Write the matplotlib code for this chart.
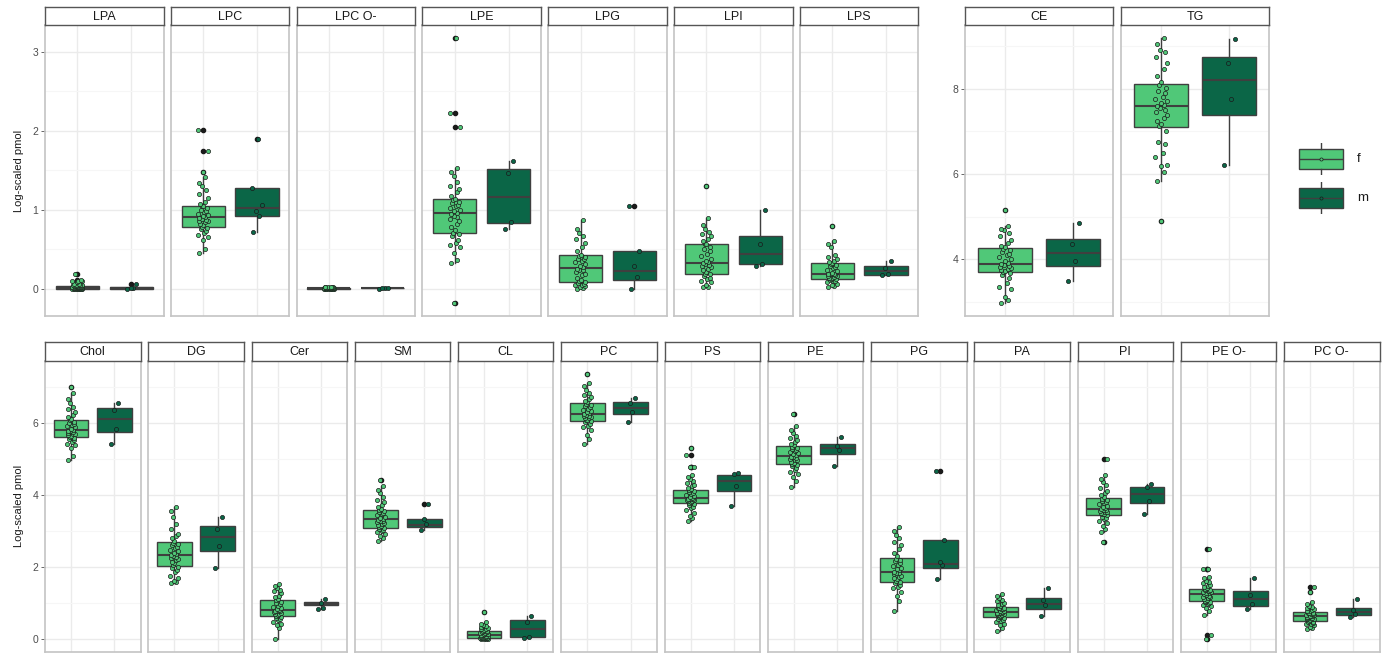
import numpy as np
import matplotlib
matplotlib.use("Agg")
import matplotlib.pyplot as plt

plt.rcParams['font.family'] = ['Liberation Sans', 'DejaVu Sans']

# ---------------------------------------------------------------- data
groups = ["f", "m"]

classes_top_left = ["LPA", "LPC", "LPC O-", "LPE", "LPG", "LPI", "LPS"]
classes_top_right = ["CE", "TG"]
classes_bottom = ["Chol", "DG", "Cer", "SM", "CL", "PC", "PS", "PE", "PG",
                  "PA", "PI", "PE O-", "PC O-"]
classes = classes_top_left + classes_top_right + classes_bottom

# box statistics (whisker low, Q1, median, Q3, whisker high) per class
f_lo = [0.00, 0.45, 0.00, 0.32, 0.00, 0.017, 0.017, 2.98, 5.84, 4.96, 1.55,
        0.00, 2.73, 0.00, 5.43, 3.27, 4.23, 0.78, 0.21, 2.96, 0.67, 0.26]
f_q1 = [0.00, 0.78, 0.00, 0.70, 0.08, 0.185, 0.122, 3.70, 7.09, 5.60, 2.02,
        0.62, 3.08, 0.02, 6.06, 3.77, 4.85, 1.59, 0.60, 3.44, 1.04, 0.49]
f_med = [0.01, 0.90, 0.005, 0.96, 0.26, 0.327, 0.185, 3.90, 7.60, 5.80, 2.34,
         0.79, 3.32, 0.11, 6.26, 3.91, 5.09, 1.87, 0.74, 3.61, 1.25, 0.62]
f_q3 = [0.03, 1.05, 0.01, 1.13, 0.42, 0.567, 0.319, 4.27, 8.10, 6.10, 2.68,
        1.08, 3.59, 0.23, 6.55, 4.14, 5.35, 2.24, 0.88, 3.92, 1.39, 0.74]
f_hi = [0.06, 1.41, 0.02, 1.53, 0.87, 0.894, 0.596, 4.78, 9.18, 6.83, 3.67,
        1.53, 4.25, 0.46, 7.11, 4.56, 5.93, 3.12, 1.25, 4.56, 1.73, 1.01]

m_lo = [0.00, 0.72, 0.00, 0.76, 0.00, 0.28, 0.17, 3.48, 6.21, 5.42, 1.97,
        0.82, 3.04, 0.02, 6.04, 3.70, 4.81, 1.67, 0.64, 3.46, 0.83, 0.60]
m_q1 = [0.00, 0.915, 0.003, 0.83, 0.105, 0.306, 0.176, 3.84, 7.375, 5.74, 2.43,
        0.93, 3.12, 0.04, 6.24, 4.11, 5.14, 1.96, 0.84, 3.77, 0.92, 0.67]
m_med = [0.005, 1.02, 0.007, 1.16, 0.22, 0.437, 0.223, 4.15, 8.19, 6.11, 2.82,
         0.97, 3.17, 0.28, 6.43, 4.40, 5.31, 2.08, 0.97, 4.03, 1.10, 0.74]
m_q3 = [0.015, 1.27, 0.01, 1.51, 0.475, 0.664, 0.281, 4.48, 8.74, 6.43, 3.13,
        1.01, 3.32, 0.51, 6.58, 4.57, 5.42, 2.75, 1.13, 4.21, 1.34, 0.86]
m_hi = [0.02, 1.27, 0.01, 1.61, 0.475, 0.99, 0.353, 4.86, 9.16, 6.57, 3.39,
        1.10, 3.32, 0.62, 6.71, 4.62, 5.60, 2.75, 1.41, 4.31, 1.69, 1.12]

# individual samples, group f
f_LPA = [0, 0, 0, 0, 0, 0, 0, 0, 0, 0.005, 0.005, 0.01, 0.01, 0.01, 0.01, 0.01,
         0.01, 0.01, 0.015, 0.015, 0.02, 0.02, 0.02, 0.025, 0.025, 0.03, 0.03,
         0.03, 0.035, 0.04, 0.04, 0.045, 0.05, 0.05, 0.055, 0.06,
         0.08, 0.09, 0.10, 0.10, 0.11, 0.19]
f_LPC = [0.45, 0.50, 0.62, 0.65, 0.68, 0.70, 0.73, 0.75, 0.77,
         0.78, 0.80, 0.82, 0.84, 0.85, 0.86, 0.87, 0.88, 0.89,
         0.90, 0.92, 0.93, 0.95, 0.97, 0.98, 1.00, 1.02, 1.04,
         1.05, 1.07, 1.10, 1.15, 1.20, 1.25, 1.30, 1.34, 1.41,
         1.48, 1.74, 2.01]
f_LPC_O = [0, 0, 0, 0, 0, 0, 0, 0, 0, 0.002, 0.003, 0.004, 0.005, 0.005, 0.005,
           0.005, 0.005, 0.005, 0.006, 0.007, 0.008, 0.008, 0.009, 0.01, 0.01,
           0.01, 0.01, 0.011, 0.012, 0.013, 0.015, 0.016, 0.018, 0.02, 0.02,
           0.02]
f_LPE = [0.32, 0.36, 0.45, 0.52, 0.55, 0.58, 0.62, 0.66, 0.69,
         0.70, 0.74, 0.78, 0.82, 0.85, 0.88, 0.90, 0.92, 0.95,
         0.96, 0.98, 1.00, 1.02, 1.04, 1.06, 1.08, 1.10, 1.12,
         1.13, 1.17, 1.22, 1.26, 1.30, 1.35, 1.42, 1.48, 1.53,
         -0.18, 2.04, 2.22, 3.17]
f_LPG = [0, 0.01, 0.02, 0.03, 0.04, 0.05, 0.06, 0.07, 0.08,
         0.09, 0.11, 0.14, 0.17, 0.19, 0.21, 0.23, 0.24, 0.25,
         0.27, 0.29, 0.31, 0.33, 0.35, 0.37, 0.38, 0.40, 0.41,
         0.43, 0.47, 0.52, 0.58, 0.63, 0.67, 0.70, 0.75, 0.87]
f_LPI = [0.017, 0.02, 0.05, 0.08, 0.10, 0.12, 0.14, 0.16, 0.18,
         0.19, 0.21, 0.23, 0.25, 0.27, 0.28, 0.30, 0.31, 0.32,
         0.33, 0.35, 0.38, 0.41, 0.44, 0.47, 0.50, 0.53, 0.56,
         0.57, 0.60, 0.63, 0.66, 0.69, 0.72, 0.76, 0.80, 0.89,
         1.30]
f_LPS = [0.017, 0.03, 0.05, 0.06, 0.08, 0.09, 0.10, 0.11, 0.12,
         0.125, 0.13, 0.14, 0.15, 0.16, 0.165, 0.17, 0.18, 0.185,
         0.19, 0.20, 0.22, 0.24, 0.26, 0.27, 0.29, 0.30, 0.31,
         0.32, 0.33, 0.35, 0.37, 0.40, 0.43, 0.52, 0.56, 0.596,
         0.79]
f_CE = [2.98, 3.05, 3.12, 3.30, 3.35, 3.45, 3.55, 3.62, 3.68,
        3.71, 3.73, 3.75, 3.78, 3.80, 3.83, 3.85, 3.87, 3.89,
        3.92, 3.96, 4.00, 4.05, 4.10, 4.13, 4.17, 4.21, 4.25,
        4.28, 4.32, 4.38, 4.45, 4.55, 4.62, 4.68, 4.72, 4.78,
        5.15]
f_TG = [5.84, 6.05, 6.18, 6.20, 6.40, 6.50, 6.70, 6.75, 7.00,
        7.12, 7.18, 7.25, 7.30, 7.38, 7.45, 7.50, 7.55, 7.58,
        7.62, 7.66, 7.70, 7.75, 7.80, 7.90, 7.95, 8.02, 8.08,
        8.15, 8.30, 8.45, 8.60, 8.75, 8.85, 8.90, 9.05, 9.18,
        4.90]
f_Chol = [4.96, 5.08, 5.30, 5.38, 5.42, 5.48, 5.52, 5.56, 5.59,
          5.61, 5.63, 5.66, 5.69, 5.71, 5.73, 5.75, 5.77, 5.79,
          5.82, 5.85, 5.88, 5.91, 5.94, 5.97, 6.00, 6.04, 6.08,
          6.12, 6.17, 6.22, 6.30, 6.38, 6.45, 6.55, 6.68, 6.83,
          7.01]
f_DG = [1.55, 1.58, 1.62, 1.68, 1.75, 1.85, 1.90, 1.96, 2.00,
        2.05, 2.10, 2.14, 2.18, 2.22, 2.25, 2.28, 2.31, 2.33,
        2.36, 2.40, 2.45, 2.48, 2.52, 2.56, 2.60, 2.63, 2.66,
        2.72, 2.80, 2.87, 2.92, 3.05, 3.20, 3.40, 3.55, 3.67]
f_Cer = [0.00, 0.30, 0.38, 0.42, 0.48, 0.52, 0.55, 0.58, 0.61,
         0.63, 0.66, 0.68, 0.70, 0.72, 0.74, 0.76, 0.77, 0.78,
         0.80, 0.83, 0.86, 0.89, 0.92, 0.96, 1.00, 1.03, 1.07,
         1.10, 1.15, 1.20, 1.28, 1.32, 1.35, 1.42, 1.48, 1.53]
f_SM = [2.73, 2.80, 2.87, 2.92, 2.96, 3.00, 3.03, 3.05, 3.07,
        3.10, 3.13, 3.16, 3.19, 3.22, 3.25, 3.27, 3.29, 3.31,
        3.34, 3.37, 3.40, 3.43, 3.46, 3.50, 3.53, 3.56, 3.58,
        3.62, 3.66, 3.72, 3.80, 3.85, 3.95, 4.05, 4.15, 4.25,
        4.43]
f_CL = [0.00, 0.00, 0.00, 0.005, 0.01, 0.01, 0.015, 0.015, 0.02,
        0.03, 0.04, 0.05, 0.06, 0.07, 0.08, 0.09, 0.10, 0.105,
        0.12, 0.13, 0.14, 0.15, 0.17, 0.18, 0.20, 0.21, 0.22,
        0.24, 0.26, 0.28, 0.30, 0.32, 0.35, 0.38, 0.42, 0.46,
        0.74]
f_PC = [5.43, 5.55, 5.68, 5.80, 5.88, 5.93, 5.98, 6.02, 6.05,
        6.08, 6.10, 6.13, 6.15, 6.17, 6.19, 6.21, 6.23, 6.25,
        6.28, 6.31, 6.34, 6.37, 6.40, 6.44, 6.47, 6.50, 6.53,
        6.58, 6.62, 6.67, 6.72, 6.78, 6.85, 6.92, 7.02, 7.11,
        7.36]
f_PS = [3.27, 3.35, 3.42, 3.50, 3.58, 3.63, 3.68, 3.72, 3.75,
        3.78, 3.80, 3.82, 3.84, 3.85, 3.86, 3.88, 3.89, 3.90,
        3.93, 3.95, 3.98, 4.00, 4.03, 4.06, 4.08, 4.10, 4.13,
        4.16, 4.20, 4.24, 4.28, 4.33, 4.38, 4.44, 4.50, 4.56,
        4.78, 4.78, 5.11, 5.31]
f_PE = [4.23, 4.40, 4.50, 4.58, 4.65, 4.70, 4.75, 4.80, 4.84,
        4.87, 4.90, 4.93, 4.96, 4.98, 5.00, 5.03, 5.05, 5.07,
        5.11, 5.13, 5.16, 5.19, 5.22, 5.25, 5.28, 5.31, 5.34,
        5.38, 5.42, 5.47, 5.52, 5.58, 5.65, 5.72, 5.80, 5.93,
        6.24]
f_PG = [0.78, 1.05, 1.20, 1.30, 1.40, 1.45, 1.50, 1.54, 1.58,
        1.62, 1.66, 1.70, 1.73, 1.76, 1.79, 1.82, 1.84, 1.86,
        1.90, 1.94, 1.98, 2.02, 2.06, 2.10, 2.15, 2.19, 2.22,
        2.30, 2.40, 2.50, 2.60, 2.70, 2.80, 2.90, 3.00, 3.12]
f_PA = [0.21, 0.30, 0.38, 0.42, 0.46, 0.50, 0.53, 0.56, 0.59,
        0.61, 0.63, 0.65, 0.67, 0.68, 0.70, 0.71, 0.72, 0.73,
        0.75, 0.77, 0.78, 0.80, 0.82, 0.83, 0.85, 0.86, 0.87,
        0.90, 0.93, 0.96, 1.00, 1.04, 1.08, 1.13, 1.18, 1.25]
f_PI = [2.96, 3.05, 3.15, 3.22, 3.28, 3.33, 3.37, 3.40, 3.43,
        3.46, 3.48, 3.50, 3.52, 3.54, 3.56, 3.57, 3.59, 3.60,
        3.63, 3.66, 3.70, 3.74, 3.78, 3.81, 3.84, 3.87, 3.90,
        3.95, 4.00, 4.06, 4.12, 4.20, 4.28, 4.35, 4.45, 4.56,
        2.70, 5.00]
f_PE_O = [0.67, 0.78, 0.85, 0.90, 0.94, 0.97, 1.00, 1.02, 1.03,
          1.06, 1.08, 1.10, 1.13, 1.15, 1.17, 1.20, 1.22, 1.24,
          1.26, 1.27, 1.29, 1.30, 1.32, 1.33, 1.35, 1.36, 1.38,
          1.41, 1.44, 1.47, 1.50, 1.54, 1.58, 1.62, 1.68, 1.73,
          0.00, 0.11, 1.93, 1.95, 2.50]
f_PC_O = [0.26, 0.30, 0.34, 0.37, 0.40, 0.42, 0.44, 0.46, 0.48,
          0.50, 0.52, 0.54, 0.55, 0.56, 0.58, 0.59, 0.60, 0.61,
          0.63, 0.64, 0.66, 0.67, 0.68, 0.70, 0.71, 0.72, 0.73,
          0.76, 0.78, 0.80, 0.83, 0.86, 0.89, 0.92, 0.96, 1.01,
          1.31, 1.43]

# individual samples, group m
m_LPA = [0.00, 0.005, 0.01, 0.06]
m_LPC = [0.72, 0.92, 0.98, 1.06, 1.27, 1.89]
m_LPC_O = [0.00, 0.005, 0.01, 0.01]
m_LPE = [0.76, 0.84, 1.46, 1.61]
m_LPG = [0.00, 0.15, 0.28, 0.475, 1.05]
m_LPI = [0.28, 0.31, 0.56, 0.99]
m_LPS = [0.17, 0.185, 0.26, 0.353]
m_CE = [3.48, 3.95, 4.35, 4.86]
m_TG = [6.21, 7.76, 8.60, 9.16]
m_Chol = [5.42, 5.83, 6.37, 6.57]
m_DG = [1.97, 2.58, 3.06, 3.39]
m_Cer = [0.82, 0.85, 0.99, 1.10]
m_SM = [3.04, 3.20, 3.32, 3.74]
m_CL = [0.02, 0.05, 0.47, 0.62]
m_PC = [6.04, 6.32, 6.55, 6.71]
m_PS = [3.70, 4.25, 4.58, 4.62]
m_PE = [4.81, 5.26, 5.37, 5.60]
m_PG = [1.67, 2.06, 2.13, 2.75, 4.67]
m_PA = [0.64, 0.94, 1.07, 1.41]
m_PI = [3.46, 3.82, 4.21, 4.31]
m_PE_O = [0.83, 0.96, 1.22, 1.69]
m_PC_O = [0.60, 0.70, 0.80, 1.12]

f_points = [f_LPA, f_LPC, f_LPC_O, f_LPE, f_LPG, f_LPI, f_LPS, f_CE, f_TG,
            f_Chol, f_DG, f_Cer, f_SM, f_CL, f_PC, f_PS, f_PE, f_PG, f_PA,
            f_PI, f_PE_O, f_PC_O]
m_points = [m_LPA, m_LPC, m_LPC_O, m_LPE, m_LPG, m_LPI, m_LPS, m_CE, m_TG,
            m_Chol, m_DG, m_Cer, m_SM, m_CL, m_PC, m_PS, m_PE, m_PG, m_PA,
            m_PI, m_PE_O, m_PC_O]

# ---------------------------------------------------------------- style
W, H = 1389, 655
FILL = {"f": "#50C878", "m": "#0B6647"}
LINE = "#3f3f3f"
GRID_MAJOR = "#EBEBEB"
GRID_MINOR = "#F6F6F6"
BORDER = "#C4C4C4"
STRIP_EDGE = "#555555"
TICK_COL = "#4D4D4D"
YLABEL = "Log-scaled pmol"
# fixed horizontal jitter pattern (fraction of a category step)
JITTER = np.array([-0.07, 0.04, -0.01, 0.09, -0.095, 0.02, 0.06, -0.045,
                   0.075, -0.03, 0.0, -0.06, 0.035, 0.085, -0.08, 0.05,
                   -0.02])

fig = plt.figure(figsize=(W / 100, H / 100), dpi=100)


def px_axes(x0, y0, x1, y1):
    return fig.add_axes([x0 / W, 1 - y1 / H, (x1 - x0) / W, (y1 - y0) / H])


def group_limits(names):
    vals = []
    for n in names:
        i = classes.index(n)
        vals += list(f_points[i]) + list(m_points[i])
    lo, hi = min(vals), max(vals)
    pad = 0.05 * (hi - lo)
    return lo - pad, hi + pad


def draw_panel(ax, name, ylim, majors, minors, show_y):
    i = classes.index(name)
    stats = []
    point_sets = [f_points[i], m_points[i]]
    bounds = [(f_lo[i], f_q1[i], f_med[i], f_q3[i], f_hi[i]),
              (m_lo[i], m_q1[i], m_med[i], m_q3[i], m_hi[i])]
    for (lo, q1, med, q3, hi), pts in zip(bounds, point_sets):
        fl = [v for v in pts if v < lo - 1e-9 or v > hi + 1e-9]
        stats.append(dict(whislo=lo, q1=q1, med=med, q3=q3, whishi=hi,
                          fliers=fl))
    bp = ax.bxp(stats, positions=[1, 2], widths=0.8, patch_artist=True,
                showcaps=False, manage_ticks=False,
                boxprops=dict(edgecolor=LINE, linewidth=1.0),
                whiskerprops=dict(color=LINE, linewidth=1.0),
                medianprops=dict(color=LINE, linewidth=1.5),
                flierprops=dict(marker="o", markerfacecolor="#1a1a1a",
                                markeredgecolor="#1a1a1a", markersize=3.0,
                                linestyle="none"))
    for patch, g in zip(bp["boxes"], groups):
        patch.set_facecolor(FILL[g])
        patch.set_zorder(2)
    for k, (pts, g) in enumerate(zip(point_sets, groups)):
        pts = np.asarray(pts, dtype=float)
        xs = (k + 1) + np.resize(JITTER, len(pts))
        ax.scatter(xs, pts, s=9, facecolor=FILL[g], edgecolor="#1a1a1a",
                   linewidths=0.5, zorder=4)

    ax.set_xlim(0.4, 2.6)
    ax.set_ylim(*ylim)
    ax.set_yticks(majors)
    ax.set_yticks(minors, minor=True)
    ax.set_xticks([1, 2])
    ax.set_axisbelow(True)
    ax.grid(True, which="major", color=GRID_MAJOR, linewidth=1.0)
    ax.grid(True, which="minor", axis="y", color=GRID_MINOR, linewidth=0.8)
    ax.tick_params(axis="x", length=0, labelbottom=False)
    ax.tick_params(axis="y", which="minor", length=0)
    if show_y:
        ax.tick_params(axis="y", which="major", length=3, width=0.6,
                       color=TICK_COL, labelcolor=TICK_COL, labelsize=7.5,
                       pad=2)
    else:
        ax.tick_params(axis="y", which="major", length=0, labelleft=False)
    for s in ax.spines.values():
        s.set_color(BORDER)
        s.set_linewidth(1.2)


def draw_strip(x0, x1, y0, y1, name):
    sax = px_axes(x0, y0, x1, y1)
    sax.set_xticks([])
    sax.set_yticks([])
    sax.set_facecolor("white")
    for s in sax.spines.values():
        s.set_color(STRIP_EDGE)
        s.set_linewidth(1.0)
    sax.text(0.5, 0.47, name, ha="center", va="center", fontsize=9,
             color="#1A1A1A", transform=sax.transAxes)


# top row, lysophospholipids (shared scale)
lim_a = group_limits(classes_top_left)
for j, name in enumerate(classes_top_left):
    x0 = 45 + j * 125.8
    x1 = x0 + 118.5
    ax = px_axes(x0, 25, x1, 316)
    draw_panel(ax, name, lim_a, [0, 1, 2, 3], [0.5, 1.5, 2.5], j == 0)
    draw_strip(x0, x1, 7, 25, name)

# top row, neutral lipids (own scale)
lim_b = group_limits(classes_top_right)
for j, name in enumerate(classes_top_right):
    x0 = 965 + j * 156
    x1 = x0 + 148
    ax = px_axes(x0, 25, x1, 316)
    draw_panel(ax, name, lim_b, [4, 6, 8], [3, 5, 7, 9], j == 0)
    draw_strip(x0, x1, 7, 25, name)

# bottom row
lim_c = group_limits(classes_bottom)
for j, name in enumerate(classes_bottom):
    x0 = 45 + j * 103.25
    x1 = x0 + 95.5
    ax = px_axes(x0, 361, x1, 652)
    draw_panel(ax, name, lim_c, [0, 2, 4, 6], [1, 3, 5, 7], j == 0)
    draw_strip(x0, x1, 342, 361, name)

# axis titles
fig.text(19 / W, 1 - 171 / H, YLABEL, rotation=90, ha="center", va="center",
         fontsize=8, color="#1A1A1A")
fig.text(19 / W, 1 - 506 / H, YLABEL, rotation=90, ha="center", va="center",
         fontsize=8, color="#1A1A1A")

# legend keys
for g, (ky0, ky1), ty in zip(groups, [(143, 175), (182, 214)], [159, 198]):
    lax = px_axes(1297, ky0, 1345, ky1)
    lax.bxp([dict(whislo=0.0, q1=0.19, med=0.5, q3=0.81, whishi=1.0,
                  fliers=[])],
            positions=[0.5], widths=0.92, patch_artist=True, showcaps=False,
            manage_ticks=False,
            boxprops=dict(facecolor=FILL[g], edgecolor=LINE, linewidth=1.0),
            whiskerprops=dict(color=LINE, linewidth=1.0),
            medianprops=dict(color=LINE, linewidth=1.0))
    lax.scatter([0.5], [0.5], s=5, facecolor=FILL[g], edgecolor="#1a1a1a",
                linewidths=0.5, zorder=4)
    lax.set_xlim(0, 1)
    lax.set_ylim(0, 1)
    lax.axis("off")
    fig.text(1357 / W, 1 - ty / H, g, ha="left", va="center", fontsize=9.5,
             color="#1A1A1A")

fig.savefig("out.png", dpi=100, facecolor="white")
